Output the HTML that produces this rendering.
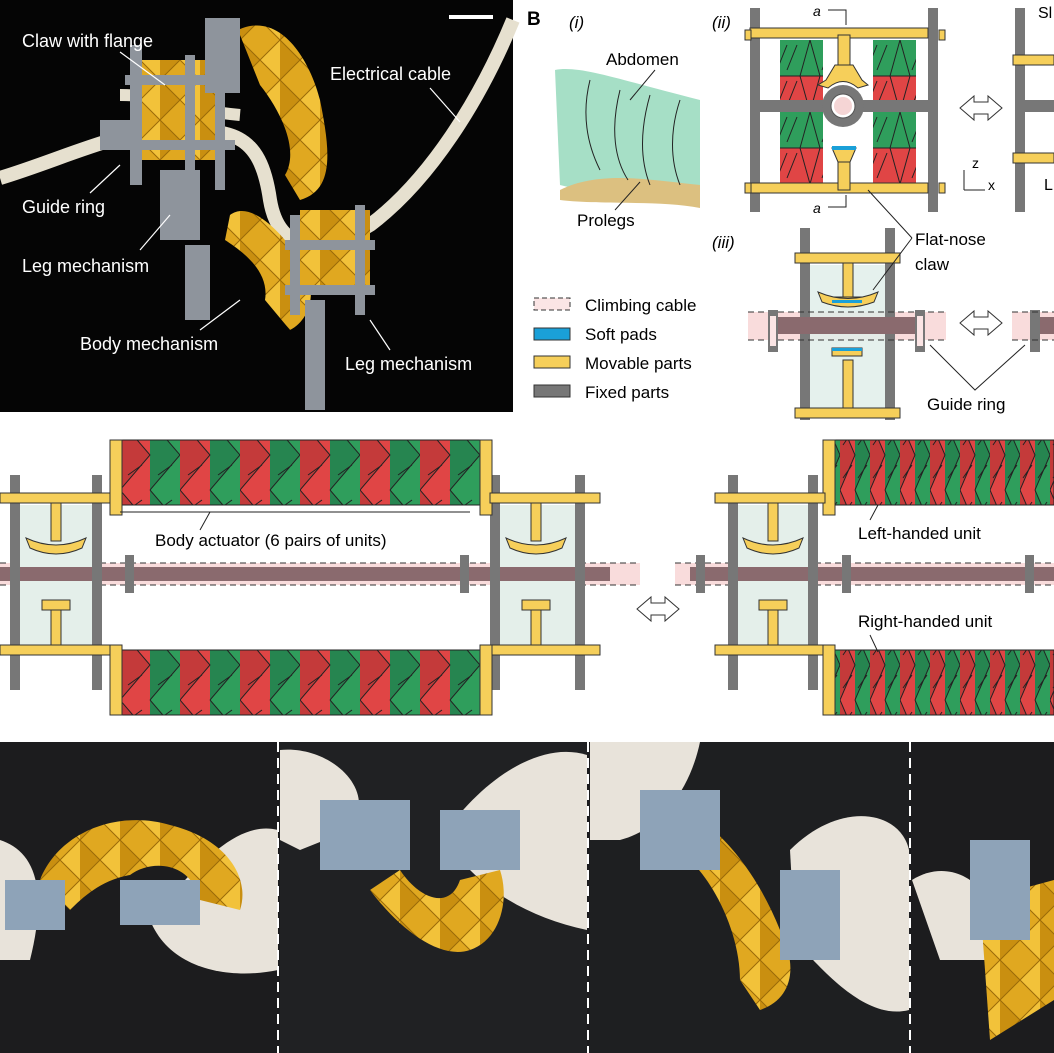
<!DOCTYPE html>
<html><head><meta charset="utf-8"><style>
body{margin:0;width:1054px;height:1053px;overflow:hidden;background:#fff}
svg{display:block}
text{font-family:"Liberation Sans",sans-serif}
</style></head><body>
<svg width="1054" height="1053" viewBox="0 0 1054 1053" xmlns="http://www.w3.org/2000/svg">
<defs>
<pattern id="act" width="60" height="70" patternUnits="userSpaceOnUse">
<rect x="0" y="0" width="30" height="70" fill="#e04545"/>
<rect x="30" y="0" width="30" height="70" fill="#2f9e5c"/>
<polygon points="0,0 30,35 0,70" fill="#c43a3a"/>
<polygon points="30,0 60,35 30,70" fill="#268550"/>
<path d="M0,0 L30,35 L0,70 M30,0 L60,35 L30,70 M8,20 L22,10 M38,20 L52,10 M8,55 L22,45 M38,55 L52,45" stroke="#222" stroke-width="1" fill="none"/>
</pattern>
<pattern id="actf" width="30" height="70" patternUnits="userSpaceOnUse">
<rect x="0" y="0" width="15" height="70" fill="#e04545"/>
<rect x="15" y="0" width="15" height="70" fill="#2f9e5c"/>
<polygon points="0,0 15,35 0,70" fill="#c43a3a"/>
<polygon points="15,0 30,35 15,70" fill="#268550"/>
<path d="M0,0 L15,35 L0,70 M15,0 L30,35 L15,70 M3,25 L12,12 M18,25 L27,12 M3,58 L12,45 M18,58 L27,45" stroke="#222" stroke-width="1" fill="none"/>
</pattern>
<pattern id="vact" x="0" y="40" width="45" height="72" patternUnits="userSpaceOnUse">
<rect width="45" height="36" fill="#2f9e5c"/><rect y="36" width="45" height="36" fill="#e04545"/>
<path d="M0,0 L10,36 L0,72 M45,0 L35,36 L45,72 M12,30 L22,5 M22,30 L32,5 M12,66 L22,41 M22,66 L32,41 M0,36 H45" stroke="#222" stroke-width="1" fill="none"/>
</pattern>
<pattern id="gold" width="40" height="40" patternUnits="userSpaceOnUse">
<rect width="40" height="40" fill="#e0a820"/>
<polygon points="0,0 20,20 0,40" fill="#c98f10"/><polygon points="40,0 20,20 40,40" fill="#f2c23a"/>
<path d="M0,0 L40,40 M40,0 L0,40" stroke="#9a6a08" stroke-width="1"/>
</pattern>
</defs>

<!-- A photo -->
<rect x="0" y="0" width="513" height="412" fill="#050505"/>
<rect x="449" y="15" width="44" height="4" fill="#fff"/>
<path d="M0,178 C60,160 120,130 170,130 C230,130 260,130 270,200 C280,260 330,250 370,225 C430,180 480,100 513,20" stroke="#e6e0cf" stroke-width="14" fill="none"/>
<path d="M120,95 C180,95 180,110 240,115" stroke="#e6e0cf" stroke-width="12" fill="none"/>
<path d="M238,30 C280,10 310,60 320,100 C330,150 335,190 300,200 L285,175 C300,150 280,110 260,85 Z" fill="url(#gold)"/>
<path d="M230,215 C250,200 280,230 300,260 C320,290 310,320 290,330 L265,300 C270,270 240,250 225,240 Z" fill="url(#gold)"/>
<rect x="140" y="60" width="80" height="100" fill="url(#gold)"/>
<rect x="300" y="210" width="70" height="80" fill="url(#gold)"/>
<g fill="#8e949c">
<rect x="205" y="18" width="35" height="75"/><rect x="130" y="45" width="12" height="140"/><rect x="185" y="55" width="10" height="150"/><rect x="215" y="60" width="10" height="130"/>
<rect x="125" y="75" width="110" height="10"/><rect x="125" y="140" width="110" height="10"/><rect x="100" y="120" width="40" height="30"/>
<rect x="160" y="170" width="40" height="70"/><rect x="185" y="245" width="25" height="75"/>
<rect x="290" y="215" width="10" height="100"/><rect x="355" y="205" width="10" height="110"/><rect x="285" y="240" width="90" height="10"/><rect x="285" y="285" width="90" height="10"/>
<rect x="305" y="300" width="20" height="110"/>
</g>
<g fill="#fff" font-size="18">
<text x="22" y="47">Claw with flange</text><text x="330" y="80">Electrical cable</text>
<text x="22" y="213">Guide ring</text><text x="22" y="272">Leg mechanism</text>
<text x="80" y="350">Body mechanism</text><text x="345" y="370">Leg mechanism</text>
</g>
<g stroke="#fff" stroke-width="1.2">
<line x1="120" y1="52" x2="165" y2="85"/><line x1="430" y1="88" x2="460" y2="122"/><line x1="90" y1="193" x2="120" y2="165"/><line x1="140" y1="250" x2="170" y2="215"/><line x1="200" y1="330" x2="240" y2="300"/><line x1="390" y1="350" x2="370" y2="320"/>
</g>

<!-- B -->
<text x="527" y="25" font-size="19" font-weight="bold">B</text>
<g font-size="17" font-style="italic"><text x="569" y="28">(i)</text><text x="712" y="28">(ii)</text><text x="712" y="248">(iii)</text></g>
<path d="M555,70 C580,65 620,80 700,100 L700,200 C650,205 600,195 560,185 Z" fill="#a6dfc6"/>
<path d="M560,190 C600,170 650,180 700,185 L700,208 C660,200 600,205 560,200 Z" fill="#dcc080"/>
<g stroke="#222" fill="none" stroke-width="1"><path d="M590,80 C580,120 590,150 600,170 M620,90 C610,130 615,160 628,180 M650,95 C640,130 640,160 650,185 M680,100 C670,130 670,160 680,185"/><line x1="655" y1="70" x2="630" y2="100"/><line x1="615" y1="210" x2="640" y2="182"/></g>
<text x="606" y="65" font-size="17">Abdomen</text><text x="577" y="226" font-size="17">Prolegs</text>

<!-- ii -->
<rect x="780" y="40" width="43" height="143" fill="url(#vact)"/><rect x="873" y="40" width="43" height="143" fill="url(#vact)"/>
<rect x="750" y="8" width="10" height="204" fill="#777"/><rect x="928" y="8" width="10" height="204" fill="#777"/>
<rect x="760" y="100" width="168" height="12" fill="#777"/>
<circle cx="843" cy="106" r="21" fill="#777"/><circle cx="843" cy="106" r="12" fill="#fff" stroke="#555"/><circle cx="843" cy="106" r="9" fill="#f5d5d5"/>
<g fill="#f6cf5a" stroke="#333" stroke-width="1">
<rect x="750" y="28" width="178" height="10"/><rect x="745" y="30" width="6" height="10"/><rect x="939" y="30" width="6" height="10"/>
<rect x="750" y="183" width="178" height="10"/><rect x="745" y="183" width="6" height="10"/><rect x="939" y="183" width="6" height="10"/>
<rect x="838" y="35" width="12" height="30"/><path d="M826,80 L835,65 H853 L862,80 L868,85 L858,88 Q843,75 828,88 L818,85 Z"/>
<rect x="838" y="160" width="12" height="30"/><path d="M832,148 H856 L850,162 H838 Z"/>
</g>
<rect x="832" y="146" width="24" height="4" fill="#1aa0d8"/>
<text x="813" y="16" font-size="14" font-style="italic">a</text><text x="813" y="213" font-size="14" font-style="italic">a</text>
<path d="M828,10 H846 V25 M828,207 H846 V195" stroke="#222" fill="none"/>
<path d="M960,108 l14,-12 v6 h14 v-6 l14,12 l-14,12 v-6 h-14 v6 z" fill="#fff" stroke="#333"/>
<rect x="1015" y="8" width="10" height="204" fill="#777"/><rect x="1025" y="100" width="29" height="12" fill="#777"/>
<rect x="1013" y="55" width="41" height="10" fill="#f6cf5a" stroke="#333"/><rect x="1013" y="153" width="41" height="10" fill="#f6cf5a" stroke="#333"/>
<text x="1038" y="18" font-size="16">Sl</text><text x="1044" y="190" font-size="16">L</text>
<path d="M964,190 V170 M964,190 H985" stroke="#222" fill="none"/><text x="972" y="168" font-size="14">z</text><text x="988" y="190" font-size="14">x</text>

<!-- iii -->
<rect x="748" y="312" width="198" height="28" fill="#f9dcdc"/>
<rect x="810" y="265" width="75" height="145" fill="#dfeee8" opacity="0.8"/>
<rect x="800" y="228" width="10" height="192" fill="#777"/><rect x="885" y="228" width="10" height="192" fill="#777"/>
<rect x="770" y="317" width="150" height="17" fill="#8a6a6e"/>
<path d="M748,312 H946 M748,340 H946" stroke="#333" stroke-dasharray="6,4"/>
<rect x="768" y="310" width="10" height="42" fill="#777"/><rect x="915" y="310" width="10" height="42" fill="#777"/>
<rect x="770" y="316" width="6" height="30" fill="#fbe5e5"/><rect x="917" y="316" width="6" height="30" fill="#fbe5e5"/>
<g fill="#f6cf5a" stroke="#333"><rect x="795" y="253" width="105" height="10"/><rect x="795" y="408" width="105" height="10"/><rect x="843" y="263" width="10" height="38"/><rect x="843" y="360" width="10" height="48"/><rect x="832" y="297" width="30" height="8"/><rect x="832" y="348" width="30" height="8"/><path d="M818,292 Q848,305 878,292 L874,302 Q848,312 822,302 Z"/></g>
<rect x="832" y="300" width="30" height="3" fill="#1aa0d8"/><rect x="832" y="348" width="30" height="3" fill="#1aa0d8"/>
<path d="M960,323 l14,-12 v6 h14 v-6 l14,12 l-14,12 v-6 h-14 v6 z" fill="#fff" stroke="#333"/>
<rect x="1012" y="312" width="42" height="28" fill="#f9dcdc"/><rect x="1030" y="317" width="24" height="17" fill="#8a6a6e"/><rect x="1030" y="310" width="10" height="42" fill="#777"/>
<path d="M1012,312 H1054 M1012,340 H1054" stroke="#333" stroke-dasharray="6,4"/>
<text x="915" y="245" font-size="17">Flat-nose</text><text x="915" y="270" font-size="17">claw</text>
<path d="M912,238 L873,290 M912,238 L868,190" stroke="#222" fill="none"/>
<text x="927" y="410" font-size="17">Guide ring</text>
<path d="M930,345 L975,390 L1025,345" stroke="#222" fill="none"/>
<g stroke="#333"><rect x="534" y="298" width="36" height="12" fill="#fbe5e5" stroke-dasharray="5,3"/><rect x="534" y="328" width="36" height="12" fill="#1aa0d8"/><rect x="534" y="356" width="36" height="12" fill="#f6cf5a"/><rect x="534" y="385" width="36" height="12" fill="#777"/></g>
<g font-size="17"><text x="585" y="311">Climbing cable</text><text x="585" y="340">Soft pads</text><text x="585" y="369">Movable parts</text><text x="585" y="398">Fixed parts</text></g>

<!-- middle left -->
<rect x="0" y="563" width="640" height="22" fill="#f9dcdc"/>
<path d="M0,563 H640 M0,585 H640" stroke="#333" stroke-dasharray="6,4"/>
<rect x="20" y="505" width="72" height="140" fill="#e4efea"/><rect x="500" y="505" width="75" height="140" fill="#e4efea"/>
<rect x="0" y="567" width="610" height="14" fill="#8a6a6e"/>
<rect x="122" y="440" width="358" height="65" fill="url(#act)" stroke="#222"/>
<rect x="122" y="650" width="358" height="65" fill="url(#act)" stroke="#222"/>
<g fill="#777"><rect x="10" y="475" width="10" height="215"/><rect x="92" y="475" width="10" height="215"/><rect x="490" y="475" width="10" height="215"/><rect x="575" y="475" width="10" height="215"/></g>
<g fill="#777"><rect x="125" y="555" width="9" height="38"/><rect x="460" y="555" width="9" height="38"/></g>
<g fill="#f6cf5a" stroke="#333">
<rect x="110" y="440" width="12" height="75"/><rect x="480" y="440" width="12" height="75"/>
<rect x="0" y="493" width="110" height="10"/><rect x="490" y="493" width="110" height="10"/>
<rect x="0" y="645" width="110" height="10"/><rect x="490" y="645" width="110" height="10"/>
<rect x="110" y="645" width="12" height="70"/><rect x="480" y="645" width="12" height="70"/>
<rect x="51" y="503" width="10" height="38"/><rect x="531" y="503" width="10" height="38"/>
<rect x="51" y="610" width="10" height="35"/><rect x="531" y="610" width="10" height="35"/>
<path d="M26,538 Q56,552 86,538 L82,548 Q56,560 30,548 Z"/><path d="M506,538 Q536,552 566,538 L562,548 Q536,560 510,548 Z"/>
<rect x="42" y="600" width="28" height="10"/><rect x="522" y="600" width="28" height="10"/>
</g>
<path d="M120,512 H470" stroke="#222"/><path d="M210,512 L200,530" stroke="#222"/>
<text x="155" y="546" font-size="17">Body actuator (6 pairs of units)</text>
<path d="M637,609 l14,-12 v6 h14 v-6 l14,12 l-14,12 v-6 h-14 v6 z" fill="#fff" stroke="#333"/>

<!-- middle right -->
<rect x="675" y="563" width="379" height="22" fill="#f9dcdc"/>
<path d="M675,563 H1054 M675,585 H1054" stroke="#333" stroke-dasharray="6,4"/>
<rect x="737" y="505" width="72" height="140" fill="#e4efea"/>
<rect x="690" y="567" width="364" height="14" fill="#8a6a6e"/>
<rect x="835" y="440" width="219" height="65" fill="url(#actf)" stroke="#222"/>
<rect x="835" y="650" width="219" height="65" fill="url(#actf)" stroke="#222"/>
<g fill="#777"><rect x="728" y="475" width="10" height="215"/><rect x="808" y="475" width="10" height="215"/><rect x="696" y="555" width="9" height="38"/><rect x="842" y="555" width="9" height="38"/><rect x="1025" y="555" width="9" height="38"/></g>
<g fill="#f6cf5a" stroke="#333">
<rect x="823" y="440" width="12" height="75"/><rect x="715" y="493" width="110" height="10"/>
<rect x="715" y="645" width="110" height="10"/><rect x="823" y="645" width="12" height="70"/>
<rect x="768" y="503" width="10" height="38"/><rect x="768" y="610" width="10" height="35"/>
<path d="M743,538 Q773,552 803,538 L799,548 Q773,560 747,548 Z"/><rect x="759" y="600" width="28" height="10"/>
</g>
<text x="858" y="539" font-size="17">Left-handed unit</text><text x="858" y="627" font-size="17">Right-handed unit</text>
<path d="M870,520 L878,505 M870,635 L878,652" stroke="#222"/>

<!-- bottom photos -->
<rect x="0" y="742" width="1054" height="311" fill="#1c1c1e"/>
<rect x="280" y="742" width="307" height="311" fill="#202123"/>
<rect x="590" y="742" width="320" height="311" fill="#1e1f21"/>
<g fill="#e8e3da">
<path d="M0,840 C30,850 50,880 30,960 L0,960 Z"/><path d="M278,830 C240,820 200,860 150,920 C170,970 230,980 278,970 Z"/>
<path d="M280,750 C330,745 380,790 350,830 L300,850 L280,840 Z"/><path d="M440,840 C480,780 540,740 587,755 L587,930 C540,920 500,900 470,870 Z"/>
<path d="M590,742 H700 C690,790 660,830 620,840 L590,840 Z"/><path d="M790,850 C840,800 900,810 909,850 L909,1010 C870,1020 830,980 795,940 Z"/>
<path d="M912,880 C960,850 1010,900 1000,960 L940,960 Z"/>
</g>
<g stroke="#fff" stroke-width="2" stroke-dasharray="10,6"><line x1="278" y1="742" x2="278" y2="1053"/><line x1="588" y1="742" x2="588" y2="1053"/><line x1="910" y1="742" x2="910" y2="1053"/></g>
<path d="M40,880 C60,830 120,810 170,825 C230,840 250,880 240,910 L200,900 C190,860 150,860 130,875 C100,880 80,900 70,910 Z" fill="url(#gold)"/>
<path d="M370,890 C400,930 440,960 470,950 C500,940 510,900 500,870 L460,880 C450,910 420,900 400,870 Z" fill="url(#gold)"/>
<path d="M700,820 C730,840 760,880 780,930 C800,970 790,1000 760,1010 L740,980 C740,940 720,890 690,860 Z" fill="url(#gold)"/>
<path d="M980,900 L1054,880 L1054,1000 L990,1040 Z" fill="url(#gold)"/>
<g fill="#8ea3b8">
<rect x="5" y="880" width="60" height="50"/><rect x="120" y="880" width="80" height="45"/>
<rect x="320" y="800" width="90" height="70"/><rect x="440" y="810" width="80" height="60"/>
<rect x="640" y="790" width="80" height="80"/><rect x="780" y="870" width="60" height="90"/>
<rect x="970" y="840" width="60" height="100"/>
</g>
</svg>
</body></html>
